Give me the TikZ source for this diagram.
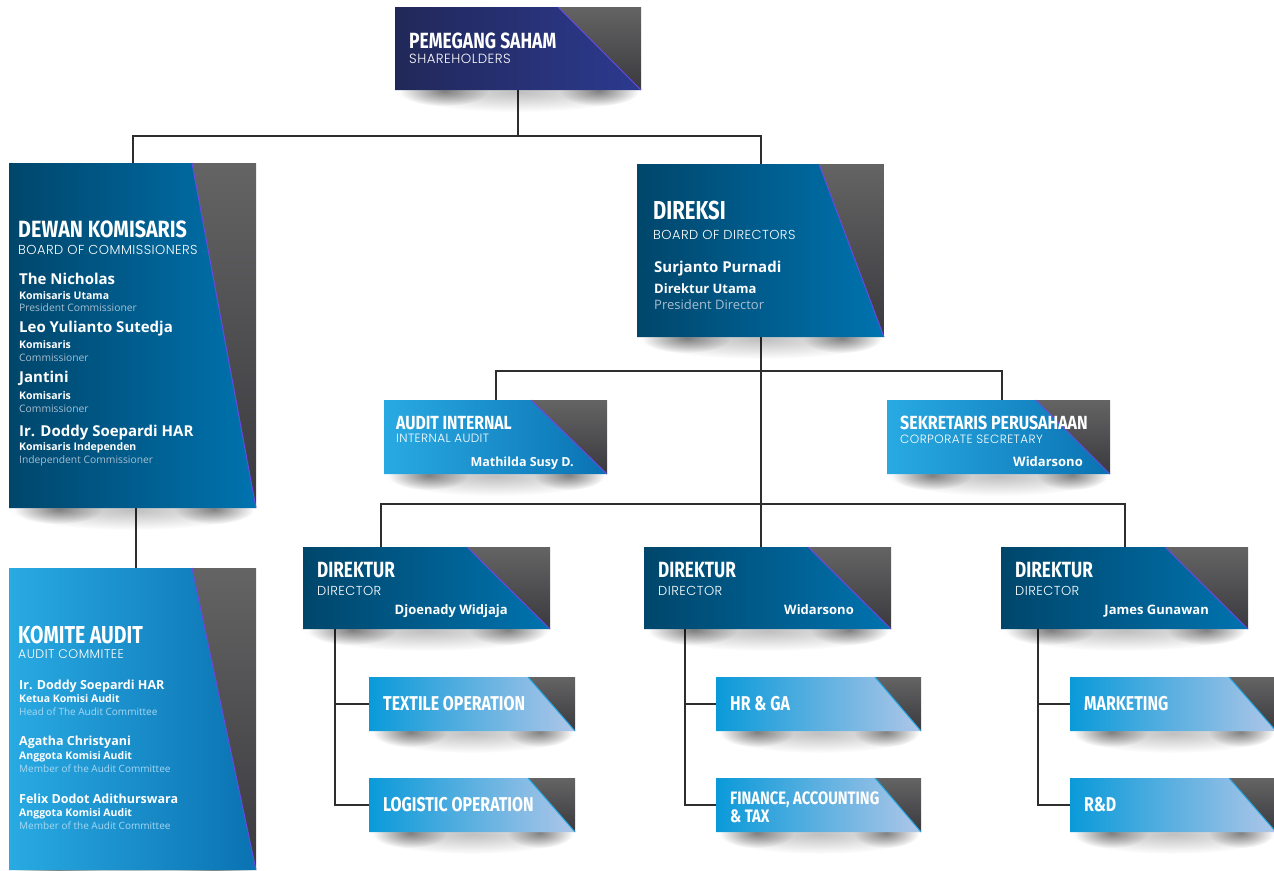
\documentclass[tikz,border=0pt]{standalone}
\usepackage{fontspec}
\setmainfont{Open Sans}
\newfontfamily\headfont{Fira Sans}[FakeStretch=0.78]
\newfontfamily\subfont{Poppins Light}[LetterSpace=3.5]
\usetikzlibrary{fit,calc,fadings,backgrounds}

\definecolor{dkL}{HTML}{00466B}
\definecolor{dkR}{HTML}{0073AF}
\definecolor{ltL}{HTML}{29AAE2}
\definecolor{ltR}{HTML}{0A72B2}
\definecolor{smL}{HTML}{0A9AD9}
\definecolor{smR}{HTML}{AEC6E8}
\definecolor{pemL}{HTML}{212859}
\definecolor{pemR}{HTML}{2C3A8F}
\definecolor{grT}{HTML}{646464}
\definecolor{grB}{HTML}{3A393E}
\definecolor{diagc}{HTML}{6A48E6}
\definecolor{cyanc}{HTML}{22A8E4}
\definecolor{connc}{HTML}{2E2E2E}
\definecolor{engc}{HTML}{A9BED0}
\definecolor{englc}{HTML}{A6D8F4}

\tikzfading[name=fuzzy, inner color=transparent!0, outer color=transparent!100]

\tikzset{
  conn/.style={draw=connc, line width=2pt},
  darkfill/.style={left color=dkL, right color=dkR},
  lightfill/.style={left color=ltL, right color=ltR},
  smallfill/.style={left color=smL, right color=smR},
  pemfill/.style={left color=pemL, right color=pemR},
  graytri/.style={top color=grT, bottom color=grB},
  purpline/.style={draw=diagc, line width=1pt},
  cyanline/.style={draw=cyanc, line width=1pt},
  txt/.style={anchor=base west, inner sep=0pt, text=white},
  hd/.style={txt, font={\headfont\bfseries\fontsize{#1}{#1}\selectfont}},
  sb/.style={txt, font={\subfont\fontsize{#1}{#1}\selectfont}},
  nm/.style={txt, font={\bfseries\fontsize{#1}{#1}\selectfont}},
  nmr/.style={nm=#1, anchor=base east},
  rl/.style={txt, font={\bfseries\fontsize{#1}{#1}\selectfont}},
  en/.style={txt, text=engc, font={\fontsize{#1}{#1}\selectfont}},
  enl/.style={txt, text=englc, font={\fontsize{#1}{#1}\selectfont}},
}

\newcommand\hx[2]{\scalebox{#1}[1]{#2}}

\newcommand\orgbox[8]{%
  \fill[black, opacity=0.25, path fading=fuzzy] ({#2+0.5*(#4-#2)},{#5+2}) ellipse [x radius={0.5*(#4-#2)}, y radius=20];
  \fill[black, opacity=0.45, path fading=fuzzy] ({#2+0.2*(#4-#2)},{#5+1}) ellipse [x radius={0.18*(#4-#2)}, y radius=15];
  \fill[black, opacity=0.45, path fading=fuzzy] ({#2+0.83*(#4-#2)},{#5+1}) ellipse [x radius={0.16*(#4-#2)}, y radius=15];
  \node[fit={(#2,#3) (#4,#5)}, inner sep=0pt] (#1) {};
  \shade[#7] (#2,#3) -- (#6,#3) -- (#4,#5) -- (#2,#5) -- cycle;
  \shade[graytri] (#6,#3) -- (#4,#3) -- (#4,#5) -- cycle;
  \draw[#8] (#6,#3) -- (#4,#5);
}

\begin{document}
\begin{tikzpicture}[x=1pt, y=-1pt]
\useasboundingbox (0,0) rectangle (1274,870);
\clip (0,0) rectangle (1274,870);

% boxes
\orgbox{pem}{395}{7}{641}{90}{558}{pemfill}{purpline}
\orgbox{dk}{9}{163}{256}{508}{192}{darkfill}{purpline}
\orgbox{ka}{9}{568}{256}{870}{192}{lightfill}{purpline}
\orgbox{dir}{637}{164}{884}{337}{819}{darkfill}{purpline}
\orgbox{ai}{384}{400}{607}{474}{531}{lightfill}{purpline}
\orgbox{sk}{887}{400}{1110}{474}{1036}{lightfill}{purpline}
\orgbox{d1}{303}{547}{550}{629}{467}{darkfill}{purpline}
\orgbox{d2}{644}{547}{891}{629}{808}{darkfill}{purpline}
\orgbox{d3}{1001}{547}{1248}{629}{1165}{darkfill}{purpline}
\orgbox{te}{369}{677}{575}{731}{528}{smallfill}{cyanline}
\orgbox{lo}{369}{778}{575}{832}{528}{smallfill}{cyanline}
\orgbox{hr}{716}{677}{921}{731}{875}{smallfill}{cyanline}
\orgbox{fi}{716}{778}{921}{832}{875}{smallfill}{cyanline}
\orgbox{mk}{1070}{677}{1276}{731}{1229}{smallfill}{cyanline}
\orgbox{rd}{1070}{778}{1276}{832}{1229}{smallfill}{cyanline}

% connectors
\begin{scope}[on background layer]
\draw[conn] (pem.south) -- ++(0,46) coordinate (jtop);
\draw[conn] (dk.north) |- (jtop) -| (dir.north);
\draw[conn] ([xshift=3pt]dk.south) -- ([xshift=3pt]ka.north);
\draw[conn] (dir.south) -- (dir.south |- d2.north);
\draw[conn] (ai.north) |- ($(sk.north)+(3.5,-29)$) -- ($(sk.north)+(3.5,0)$);
\draw[conn] ([xshift=-45.5pt]d1.north) -- ++(0,-43) -| (d3.north);
\draw[conn] ([xshift=32pt]d1.south west) |- (lo.west);
\draw[conn] (te.west) -- ++(-34,0);
\draw[conn] ([xshift=41pt]d2.south west) |- (fi.west);
\draw[conn] (hr.west) -- ++(-31,0);
\draw[conn] ([xshift=37pt]d3.south west) |- (rd.west);
\draw[conn] (mk.west) -- ++(-32,0);
\end{scope}

% texts: shareholders
\node[hd=22] (pemh) at (409,48) {\hx{1.02}{PEMEGANG SAHAM}};
\node[sb=13.3] (pems) at (409,63.5) {SHAREHOLDERS};

% dewan komisaris
\node[hd=23.5] (dkh) at (18,237) {\hx{1.08}{DEWAN KOMISARIS}};
\node[sb=13] (dks) at (18,254) {BOARD OF COMMISSIONERS};
\node[nm=15] (dkn1) at (19,284) {The Nicholas};
\node[rl=10.5] (dkr1) at (19,299) {Komisaris Utama};
\node[en=10.3] (dke1) at (19,311) {President Commissioner};
\node[nm=15] (dkn2) at (19,332) {Leo Yulianto Sutedja};
\node[rl=10.5] (dkr2) at (19,348) {Komisaris};
\node[en=10.3] (dke2) at (19,361) {Commissioner};
\node[nm=15] (dkn3) at (19,382) {Jantini};
\node[rl=10.5] (dkr3) at (19,399) {Komisaris};
\node[en=10.3] (dke3) at (19,412) {Commissioner};
\node[nm=15] (dkn4) at (19,436) {Ir. Doddy Soepardi HAR};
\node[rl=10.5] (dkr4) at (19,450) {Komisaris Independen};
\node[en=10.3] (dke4) at (19,463) {Independent Commissioner};

% komite audit
\node[hd=24.5] (kah) at (18,643) {\hx{1.02}{KOMITE AUDIT}};
\node[sb=12.5] (kas) at (18,658) {AUDIT COMMITEE};
\node[nm=12.5] (kan1) at (19,689) {Ir. Doddy Soepardi HAR};
\node[rl=10.5] (kar1) at (19,702) {Ketua Komisi Audit};
\node[enl=10] (kae1) at (19,715) {Head of The Audit Committee};
\node[nm=12.5] (kan2) at (19,745) {Agatha Christyani};
\node[rl=10.5] (kar2) at (19,759) {Anggota Komisi Audit};
\node[enl=10] (kae2) at (19,772) {Member of the Audit Committee};
\node[nm=12.5] (kan3) at (19,803) {Felix Dodot Adithurswara};
\node[rl=10.5] (kar3) at (19,816) {Anggota Komisi Audit};
\node[enl=10] (kae3) at (19,829) {Member of the Audit Committee};

% direksi
\node[hd=26] (dirh) at (653,219) {DIREKSI};
\node[sb=13] (dirs) at (653,239) {BOARD OF DIRECTORS};
\node[nm=15] (dirn) at (654,272) {Surjanto Purnadi};
\node[rl=13] (dirr) at (654,293) {Direktur Utama};
\node[en=13] (dire) at (654,309) {President Director};

% audit internal / sekretaris
\node[hd=19] (aih) at (396,429) {\hx{1.06}{AUDIT INTERNAL}};
\node[sb=12] (ais) at (396,442) {INTERNAL AUDIT};
\node[nmr=12.5] (ain) at (574,466) {Mathilda Susy D.};
\node[hd=19] (skh) at (900,429) {\hx{1.08}{SEKRETARIS PERUSAHAAN}};
\node[sb=12] (sks) at (900,443.5) {CORPORATE SECRETARY};
\node[nmr=13] (skn) at (1083,466) {Widarsono};

% direktur
\node[hd=22] (d1h) at (317,577) {DIREKTUR};
\node[sb=13] (d1s) at (317,595) {DIRECTOR};
\node[nmr=13] (d1n) at (508,614) {Djoenady Widjaja};
\node[hd=22] (d2h) at (658,577) {DIREKTUR};
\node[sb=13] (d2s) at (658,595) {DIRECTOR};
\node[nmr=13] (d2n) at (854,614) {Widarsono};
\node[hd=22] (d3h) at (1015,577) {DIREKTUR};
\node[sb=13] (d3s) at (1015,595) {DIRECTOR};
\node[nmr=13] (d3n) at (1209,614) {James Gunawan};

% small boxes
\node[hd=20] (tet) at (383,710) {\hx{1.02}{TEXTILE OPERATION}};
\node[hd=20] (lot) at (383,811) {\hx{1.02}{LOGISTIC OPERATION}};
\node[hd=20] (hrt) at (730,710) {\hx{1.02}{HR \& GA}};
\node[hd=18] (fit1) at (730,804) {\hx{1.05}{FINANCE, ACCOUNTING}};
\node[hd=18] (fit2) at (730,822) {\hx{1.05}{\& TAX}};
\node[hd=20] (mkt) at (1084,710) {\hx{1.02}{MARKETING}};
\node[hd=20] (rdt) at (1084,811) {\hx{1.02}{R\&D}};
\end{tikzpicture}
\end{document}
